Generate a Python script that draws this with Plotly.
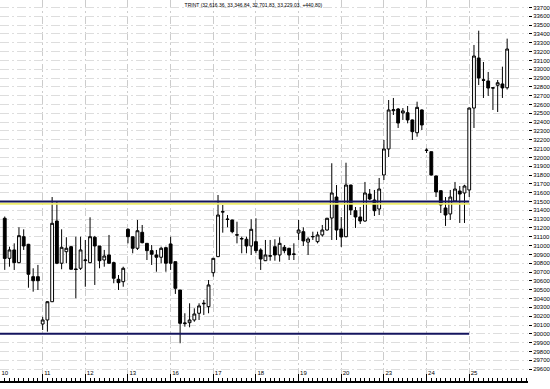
import plotly.graph_objects as go

title_text = "TRINT (32,616.36, 33,346.84, 32,701.83, 33,229.03, +440.80)"
day_labels = ["10", "11", "12", "13", "16", "17", "18", "19", "20", "23", "24", "25"]
candles_per_day = 9
day_ticks = [k * candles_per_day for k in range(len(day_labels))]

# candle index (9 bars per session, first bar of the "10" session is off-screen)
idx = list(range(1, 108))

opens = [31310, 30856, 30951, 30807, 31101, 31015, 30648, 30648,
         30111, 30157, 30364, 31279, 30800, 30931, 30988, 30735, 30743,
         30830, 30807, 31095, 30996, 30837, 30894, 30807, 30618, 30591,
         31185, 31101, 30970, 31151, 31026, 30943, 30894, 30868, 30977,
         31019, 30818, 30497, 30115, 30126, 30157, 30233, 30340, 30308,
         30693, 30875, 31380, 31296, 31291, 31123, 31075, 31072, 30996,
         31045, 30951, 30829, 30880, 30988, 30894, 30981, 30970, 30900,
         31143, 31158, 31040, 31100, 31045, 31121, 31177, 31313, 31551,
         31189, 31101, 31687, 31396, 31325, 31279, 31585, 31517, 31415,
         31801, 32096, 32530, 32549, 32504, 32507, 32425, 32280, 32538,
         32084, 32065, 31790, 31623, 31427, 31359, 31506, 31619, 31597,
         31631, 32560, 33127, 32880, 32867, 32790, 32818, 32833, 32790]
highs = [31330, 30988, 31026, 31208, 31185, 31020, 30743, 30781,
         30194, 30370, 31551, 31498, 31185, 31095, 30996, 31101, 31101,
         31064, 31321, 31110, 30996, 30951, 31121, 30818, 30667, 30761,
         31196, 31101, 31291, 31234, 31026, 31007, 30951, 30988, 30988,
         31101, 30818, 30497, 30233, 30346, 30289, 30346, 30384, 30610,
         30860, 31574, 31461, 31347, 31295, 31271, 31101, 31101, 31299,
         31310, 30970, 31064, 31064, 31072, 31095, 31007, 30975, 31026,
         31291, 31208, 31095, 31158, 31158, 31234, 31315, 31934, 31687,
         31325, 31940, 31690, 31438, 31438, 31722, 31642, 31631, 31767,
         32198, 32651, 32674, 32560, 32560, 32583, 32430, 32632, 32545,
         32104, 32065, 31795, 31625, 31551, 31631, 31722, 31676, 31690,
         32565, 33275, 33437, 33082, 32969, 32790, 32878, 33029, 33346.84]
lows = [30725, 30761, 30724, 30800, 30951, 30523, 30478, 30497,
        30043, 30024, 30360, 30790, 30732, 30800, 30732, 30403, 30724,
        30534, 30800, 30554, 30743, 30761, 30795, 30573, 30497, 30534,
        31026, 30913, 30951, 31026, 30837, 30781, 30704, 30800, 30704,
        30724, 30452, 29893, 30081, 30074, 30137, 30157, 30214, 30233,
        30648, 30870, 31147, 31208, 31140, 31026, 30913, 30913, 30894,
        30913, 30724, 30825, 30829, 30829, 30818, 30913, 30837, 30837,
        31064, 30996, 30894, 31064, 31026, 31101, 31170, 31064, 31064,
        30985, 31095, 31347, 31200, 31245, 31270, 31517, 31336, 31347,
        31744, 32005, 32481, 32334, 32425, 32387, 32198, 32235, 32311,
        32050, 31795, 31551, 31370, 31223, 31291, 31495, 31257, 31257,
        31551, 32334, 32821, 32674, 32697, 32538, 32515, 32674, 32770]
closes = [30855, 30951, 30807, 31113, 30996, 30675, 30602, 30602,
          30157, 30364, 31253, 30800, 30981, 30970, 30732, 30730, 30951,
          30837, 31101, 30996, 30829, 30882, 30800, 30630, 30580, 30743,
          31101, 30970, 31169, 31033, 30943, 30902, 30868, 30970, 30800,
          30800, 30516, 30119, 30122, 30157, 30225, 30316, 30346, 30554,
          30856, 31347, 31385, 31300, 31158, 31120, 31080, 30996, 31185,
          30943, 30848, 30894, 30885, 30894, 31026, 30943, 30894, 30905,
          31177, 31053, 31075, 31103, 31121, 31177, 31310, 31597, 31177,
          31098, 31687, 31404, 31325, 31279, 31597, 31529, 31396, 31642,
          32096, 32538, 32540, 32390, 32527, 32425, 32292, 32568, 32368,
          32080, 31801, 31608, 31461, 31347, 31551, 31642, 31585, 31676,
          32560, 33150, 32901, 32875, 32787, 32787, 32847, 32788.23, 33229.03]

resistance_level = 31500
support_level = 30000
level_end_idx = 99

x_range = [0, 111.4]
y_range = [29465, 33785]

fig = go.Figure(go.Candlestick(
    x=idx, open=opens, high=highs, low=lows, close=closes,
    increasing=dict(line=dict(color="black", width=1), fillcolor="white"),
    decreasing=dict(line=dict(color="black", width=1), fillcolor="black"),
    whiskerwidth=0, hoverinfo="skip", showlegend=False,
))

fig.add_shape(type="line", xref="x", yref="y", x0=x_range[0], x1=level_end_idx,
              y0=resistance_level - 24, y1=resistance_level - 24,
              line=dict(color="#eeec6a", width=2))
fig.add_shape(type="line", xref="x", yref="y", x0=x_range[0], x1=level_end_idx,
              y0=resistance_level, y1=resistance_level,
              line=dict(color="#14145e", width=2))
fig.add_shape(type="line", xref="x", yref="y", x0=x_range[0], x1=level_end_idx,
              y0=support_level, y1=support_level,
              line=dict(color="#14145e", width=2))

fig.update_layout(
    width=550, height=389,
    margin=dict(l=0, r=22, t=0, b=8),
    paper_bgcolor="white", plot_bgcolor="white",
    font=dict(family="Liberation Sans, Arial, sans-serif", color="black", size=6),
    title=dict(text=title_text, font=dict(size=5, color="black"),
               x=264 / 550, xanchor="center", xref="paper",
               y=1 - 5.5 / 389, yanchor="middle", yref="container"),
    boxgap=0.15,
    xaxis=dict(
        range=x_range, tickmode="array", tickvals=day_ticks, ticktext=day_labels,
        ticks="inside", ticklen=7, tickcolor="black", tickwidth=1,
        ticklabelposition="inside right", tickfont=dict(size=6, color="black"),
        showline=True, linecolor="black", linewidth=2,
        showgrid=True, gridcolor="#cccccc", gridwidth=1, griddash="8px,3px,2px,3px",
        zeroline=False, rangeslider=dict(visible=False),
        minor=dict(dtick=1, tick0=0, ticks="inside", ticklen=3, tickcolor="black", showgrid=False),
    ),
    yaxis=dict(
        side="right", range=y_range, dtick=100, tick0=0, tickformat="d",
        ticks="outside", ticklen=3, tickcolor="black", tickwidth=1,
        tickfont=dict(size=6, color="black"),
        showgrid=True, gridcolor="#dddddd", gridwidth=1, griddash="9px,3px,2px,3px",
        zeroline=False, showline=False,
    ),
)

fig.write_html("out.html")
